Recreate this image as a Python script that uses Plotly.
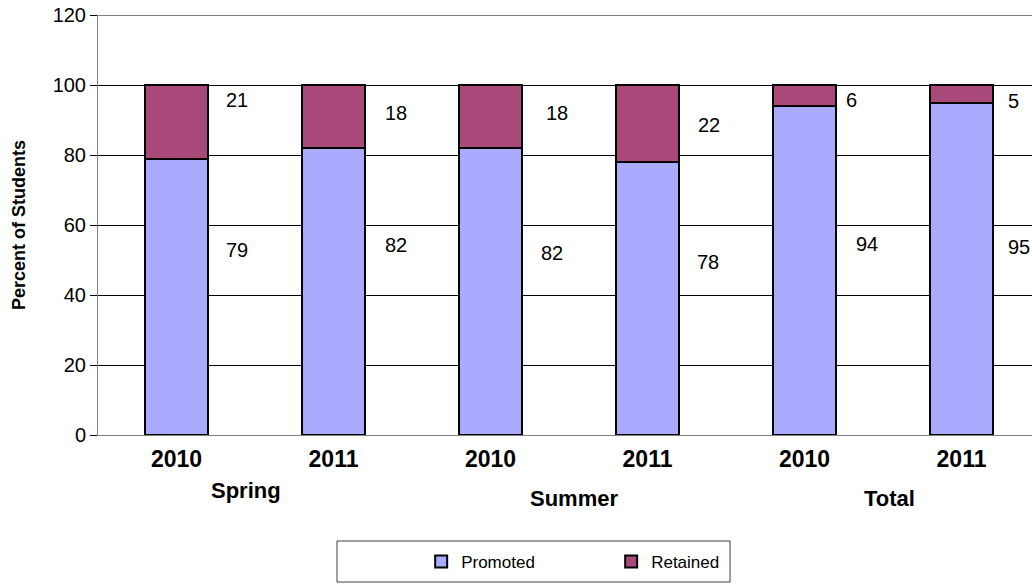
import plotly.graph_objects as go

# Data
years = ["2010", "2011", "2010", "2011", "2010", "2011"]
groups = ["Spring", "Summer", "Total"]
promoted = [79, 82, 82, 78, 94, 95]
retained = [21, 18, 18, 22, 6, 5]
y_ticks = [0, 20, 40, 60, 80, 100, 120]

# Label placement (data-unit heights and pixel offsets to the right of each bar)
promoted_label_y = [53.0, 54.3, 52.0, 49.4, 54.6, 53.7]
retained_label_y = [95.7, 92.1, 92.1, 88.7, 95.7, 95.5]
promoted_label_dx = [60, 62, 61, 60, 62, 57]
retained_label_dx = [60, 62, 66, 61, 47, 52]

FONT = "Liberation Sans, Arial, sans-serif"
C_PROMOTED = "#AAAAFF"
C_RETAINED = "#A9497A"

x = list(range(len(years)))

fig = go.Figure()
fig.add_trace(go.Bar(
    x=x, y=promoted, name="Promoted", width=0.4,
    marker=dict(color=C_PROMOTED, line=dict(color="black", width=2)),
))
fig.add_trace(go.Bar(
    x=x, y=retained, name="Retained", width=0.4,
    marker=dict(color=C_RETAINED, line=dict(color="black", width=2)),
))

annotations = []
for i in x:
    annotations.append(dict(
        x=i, y=promoted_label_y[i], xref="x", yref="y", text=str(promoted[i]),
        showarrow=False, xshift=promoted_label_dx[i],
        font=dict(family=FONT, size=20, color="black"),
    ))
    annotations.append(dict(
        x=i, y=retained_label_y[i], xref="x", yref="y", text=str(retained[i]),
        showarrow=False, xshift=retained_label_dx[i],
        font=dict(family=FONT, size=20, color="black"),
    ))

# Group labels under the year ticks
group_pos = [(0.5, -9, -0.133), (2.5, 5, -0.151), (4.5, 6, -0.151)]
for name, (gx, dx, gy) in zip(groups, group_pos):
    annotations.append(dict(
        x=gx, y=gy, xref="x", yref="paper", text=name, showarrow=False,
        xshift=dx, yanchor="middle",
        font=dict(family=FONT, size=22, color="black", weight="bold"),
    ))

fig.update_layout(
    width=1032, height=584,
    margin=dict(l=98, r=0, t=15, b=149),
    paper_bgcolor="white", plot_bgcolor="white",
    barmode="stack",
    bargap=0.6,
    font=dict(family=FONT, color="black"),
    annotations=annotations,
    showlegend=True,
    legend=dict(
        orientation="h", x=0.346, xanchor="left", y=-0.302, yanchor="middle",
        font=dict(family=FONT, size=17, color="black"),
        entrywidth=145, entrywidthmode="pixels",
        bgcolor="rgba(0,0,0,0)", traceorder="normal",
    ),
    shapes=[
        # legend frame
        dict(type="rect", xref="paper", yref="paper",
             x0=0.2559, x1=0.6767, y0=-0.35, y1=-0.2524,
             line=dict(color="#404040", width=1), fillcolor="white", layer="below"),
        # top gridline at the axis maximum
        dict(type="line", xref="paper", yref="y", x0=0, x1=1, y0=120, y1=120,
             line=dict(color="black", width=1), layer="below"),
    ],
)

fig.update_xaxes(
    range=[-0.5, 5.449],
    tickvals=x, ticktext=years,
    tickfont=dict(family=FONT, size=23, color="black", weight="bold"),
    ticklabelstandoff=3,
    showline=True, linecolor="#808080", linewidth=1,
    ticks="", showgrid=False, zeroline=False,
)
fig.update_yaxes(
    range=[0, 120], tickvals=y_ticks,
    tickfont=dict(family=FONT, size=20, color="black"),
    showgrid=True, gridcolor="black", gridwidth=1,
    showline=True, linecolor="#808080", linewidth=1,
    ticks="outside", ticklen=7, tickcolor="black",
    zeroline=False,
    title=dict(text="Percent of Students", standoff=22,
               font=dict(family=FONT, size=18, color="black", weight="bold")),
)

fig.write_html("out.html")
